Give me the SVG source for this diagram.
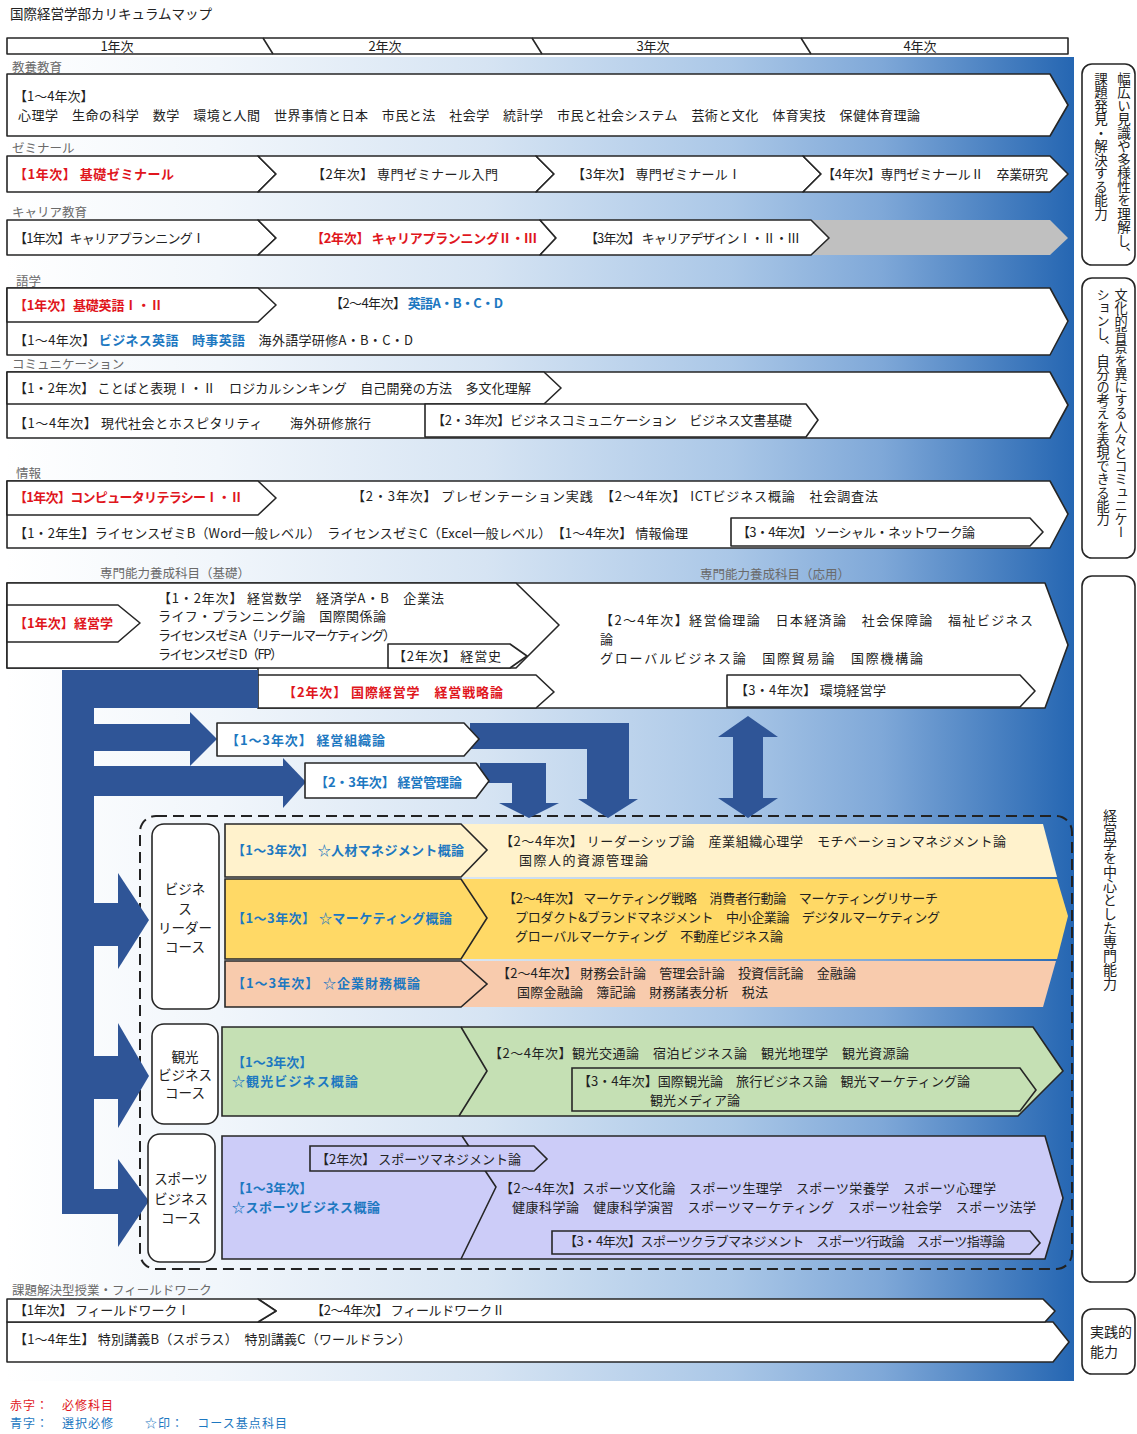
<svg xmlns="http://www.w3.org/2000/svg" width="1137" height="1434" viewBox="0 0 1137 1434">
<defs>
<linearGradient id="bg" x1="0" y1="0" x2="1" y2="0">
<stop offset="0" stop-color="#ffffff"/>
<stop offset="0.2" stop-color="#f1f6fb"/>
<stop offset="0.45" stop-color="#d6e4f3"/>
<stop offset="0.68" stop-color="#aac7e7"/>
<stop offset="0.82" stop-color="#7fa8d8"/>
<stop offset="1" stop-color="#2566b2"/>
</linearGradient>
<style>
text{font-family:'Noto Sans CJK JP','Noto Sans',sans-serif;font-size:13px;fill:#222}
.r{fill:#e0161d;font-weight:700}
.b{fill:#1d78c1;font-weight:700}
.lbl{fill:#6a6a6a;font-size:12.5px}
.bx{fill:#fff;stroke:#262626;stroke-width:1.6;stroke-linejoin:round}
.ln{fill:none;stroke:#262626;stroke-width:1.6;stroke-linejoin:round}
.ar{fill:#2f5597}
.v{writing-mode:vertical-rl}
.c{text-anchor:middle;font-size:13.5px}
.lg{font-size:12px}
</style>
</defs>

<rect x="5" y="57" width="1069" height="1324" fill="url(#bg)"/>

<text x="10" y="19" style="font-size:13.5px">国際経営学部カリキュラムマップ</text>

<g id="years">
<rect x="7" y="38" width="1061" height="16" class="bx"/>
<path d="M263 38 L273 54 M532 38 L542 54 M801 38 L811 54" class="ln"/>
<text x="117" y="51" text-anchor="middle">1年次</text>
<text x="385" y="51" text-anchor="middle">2年次</text>
<text x="653" y="51" text-anchor="middle">3年次</text>
<text x="920" y="51" text-anchor="middle">4年次</text>
</g>

<g id="labels">
<text x="12" y="72" class="lbl">教養教育</text>
<text x="12" y="153" class="lbl">ゼミナール</text>
<text x="12" y="217" class="lbl">キャリア教育</text>
<text x="16" y="286" class="lbl">語学</text>
<text x="12" y="369" class="lbl">コミュニケーション</text>
<text x="16" y="478" class="lbl">情報</text>
<text x="100" y="578" class="lbl">専門能力養成科目（基礎）</text>
<text x="700" y="579" class="lbl">専門能力養成科目（応用）</text>
<text x="12" y="1295" class="lbl">課題解決型授業・フィールドワーク</text>
</g>

<g id="row-kyoyo">
<polygon points="7,74 1050,74 1068,105 1050,136 7,136" class="bx"/>
<text x="14" y="101">【1～4年次】</text>
<text x="18" y="120" textLength="902">心理学　生命の科学　数学　環境と人間　世界事情と日本　市民と法　社会学　統計学　市民と社会システム　芸術と文化　体育実技　保健体育理論</text>
</g>

<g id="row-seminar">
<polygon points="7,156 258,156 276,174 258,192 7,192" class="bx"/>
<polygon points="258,156 536,156 554,174 536,192 258,192 276,174" class="bx"/>
<polygon points="536,156 803,156 821,174 803,192 536,192 554,174" class="bx"/>
<polygon points="803,156 1050,156 1068,174 1050,192 803,192 821,174" class="bx"/>
<text x="14" y="179" class="r" textLength="160">【1年次】 基礎ゼミナール</text>
<text x="312" y="179" textLength="186">【2年次】 専門ゼミナール入門</text>
<text x="572" y="179" textLength="169">【3年次】 専門ゼミナールⅠ</text>
<text x="822" y="179" textLength="226">【4年次】専門ゼミナールⅡ　卒業研究</text>
</g>

<g id="row-career">
<polygon points="811,220 1050,220 1068,238 1050,255 811,255 829,238" fill="#c0c0c0"/>
<polygon points="7,220 258,220 276,238 258,255 7,255" class="bx"/>
<polygon points="258,220 540,220 556,238 540,255 258,255 276,238" class="bx"/>
<polygon points="540,220 811,220 829,238 811,255 540,255 556,238" class="bx"/>
<text x="14" y="243" textLength="191">【1年次】キャリアプランニングⅠ</text>
<text x="311" y="243" class="r" textLength="226">【2年次】 キャリアプランニングⅡ・Ⅲ</text>
<text x="585" y="243" textLength="215">【3年次】 キャリアデザインⅠ・Ⅱ・Ⅲ</text>
</g>

<g id="row-gogaku">
<polygon points="7,288 1050,288 1068,321 1050,355 7,355" class="bx"/>
<polygon points="7,288 258,288 276,305 258,322 7,322" class="bx"/>
<text x="14" y="310" class="r" textLength="149">【1年次】基礎英語Ⅰ・Ⅱ</text>
<text x="330" y="308" textLength="173">【2～4年次】 <tspan class="b">英語A・B・C・D</tspan></text>
<text x="14" y="345" textLength="399">【1～4年次】 <tspan class="b">ビジネス英語　時事英語</tspan>　海外語学研修A・B・C・D</text>
</g>

<g id="row-comm">
<polygon points="7,372 1050,372 1068,405 1050,438 7,438" class="bx"/>
<polygon points="7,372 544,372 561,388 544,404 7,404" class="bx"/>
<polygon points="425,404 806,404 818,420 806,437 425,437" class="bx"/>
<text x="14" y="393" textLength="517">【1・2年次】 ことばと表現Ⅰ・Ⅱ　ロジカルシンキング　自己開発の方法　多文化理解</text>
<text x="14" y="428" textLength="357">【1～4年次】 現代社会とホスピタリティ　　海外研修旅行</text>
<text x="432" y="425" textLength="360">【2・3年次】ビジネスコミュニケーション　ビジネス文書基礎</text>
</g>

<g id="row-joho">
<polygon points="7,481 1050,481 1068,514 1050,548 7,548" class="bx"/>
<polygon points="7,481 258,481 276,498 258,515 7,515" class="bx"/>
<polygon points="731,518 1030,518 1043,532 1030,546 731,546" class="bx"/>
<text x="14" y="502" class="r" textLength="229">【1年次】コンピュータリテラシーⅠ・Ⅱ</text>
<text x="352" y="501" textLength="526">【2・3年次】 プレゼンテーション実践　【2～4年次】 ICTビジネス概論　社会調査法</text>
<text x="14" y="538" textLength="674">【1・2年生】ライセンスゼミB（Word一般レベル）　ライセンスゼミC（Excel一般レベル）　【1～4年次】 情報倫理</text>
<text x="737" y="537" textLength="238">【3・4年次】 ソーシャル・ネットワーク論</text>
</g>

<g id="row-senmon">
<polygon points="7,583 1045,583 1068,645 1045,708 258,708 258,668 7,668" class="bx"/>
<polygon points="7,583 516,583 559,625 516,668 7,668" class="bx"/>
<polygon points="7,605 118,605 140,623 118,642 7,642" class="bx"/>
<polygon points="388,644 510,644 527,656 510,668 388,668" class="bx"/>
<polygon points="258,675 536,675 554,692 536,708 258,708" class="bx"/>
<polygon points="727,675 1020,675 1035,691 1020,707 727,707" class="bx"/>
<text x="14" y="628" class="r" textLength="99">【1年次】経営学</text>
<text x="158" y="603" textLength="286">【1・2年次】 経営数学　経済学A・B　企業法</text>
<text x="158" y="621" textLength="228">ライフ・プランニング論　国際関係論</text>
<text x="158" y="640" textLength="238">ライセンスゼミA（リテールマーケティング）</text>
<text x="158" y="659" textLength="125">ライセンスゼミD（FP）</text>
<text x="393" y="661" textLength="108">【2年次】 経営史</text>
<text x="600" y="625" textLength="433">【2～4年次】経営倫理論　日本経済論　社会保障論　福祉ビジネス</text>
<text x="600" y="644">論</text>
<text x="600" y="663" textLength="323">グローバルビジネス論　国際貿易論　国際機構論</text>
<text x="735" y="695" textLength="151">【3・4年次】 環境経営学</text>
<text x="283" y="697" class="r" textLength="220">【2年次】 国際経営学　経営戦略論</text>
</g>

<rect id="course-frame" x="140" y="816" width="932" height="453" rx="16" fill="none" stroke="#222" stroke-width="2" stroke-dasharray="11 6"/>

<g id="course-business">
<polygon points="225,824 1043,824 1057,877 225,877" fill="#fff2cc"/>
<polygon points="225,879 1057,879 1068,916 1057,959 225,959" fill="#ffd966"/>
<polygon points="225,961 1056,961 1043,1007 225,1007" fill="#f8cbad"/>
<polygon points="225,824 461,824 487,850 461,877 225,877" fill="#fff2cc" stroke="#262626" stroke-width="1.6"/>
<polygon points="225,879 461,879 487,918 461,959 225,959" fill="#ffd966" stroke="#262626" stroke-width="1.6"/>
<polygon points="225,961 461,961 487,984 461,1007 225,1007" fill="#f8cbad" stroke="#262626" stroke-width="1.6"/>
<text x="232" y="855" class="b" textLength="232">【1～3年次】 ☆人材マネジメント概論</text>
<text x="232" y="923" class="b" textLength="220">【1～3年次】 ☆マーケティング概論</text>
<text x="232" y="988" class="b" textLength="188">【1～3年次】 ☆企業財務概論</text>
<text x="500" y="846" textLength="506">【2～4年次】 リーダーシップ論　産業組織心理学　モチベーションマネジメント論</text>
<text x="519" y="865" textLength="129">国際人的資源管理論</text>
<text x="503" y="903" textLength="435">【2～4年次】 マーケティング戦略　消費者行動論　マーケティングリサーチ</text>
<text x="515" y="922" textLength="425">プロダクト&amp;ブランドマネジメント　中小企業論　デジタルマーケティング</text>
<text x="515" y="941" textLength="268">グローバルマーケティング　不動産ビジネス論</text>
<text x="497" y="978" textLength="359">【2～4年次】 財務会計論　管理会計論　投資信託論　金融論</text>
<text x="517" y="997" textLength="251">国際金融論　簿記論　財務諸表分析　税法</text>
</g>

<g id="course-kanko">
<polygon points="222,1027 1033,1027 1063,1071 1018,1116 222,1116" fill="#c5e0b4" stroke="#262626" stroke-width="1.6"/>
<polyline points="461,1027 487,1071 459,1116" class="ln"/>
<polygon points="572,1068 1020,1068 1036,1090 1020,1111 572,1111" fill="#c5e0b4" stroke="#262626" stroke-width="1.6"/>
<text x="232" y="1067" class="b">【1～3年次】</text>
<text x="232" y="1086" class="b" textLength="126">☆観光ビジネス概論</text>
<text x="489" y="1058" textLength="420">【2～4年次】観光交通論　宿泊ビジネス論　観光地理学　観光資源論</text>
<text x="578" y="1086" textLength="392">【3・4年次】国際観光論　旅行ビジネス論　観光マーケティング論</text>
<text x="650" y="1105">観光メディア論</text>
</g>

<g id="course-sports">
<polygon points="222,1136 1045,1136 1063,1198 1045,1259 222,1259" fill="#ccccf8" stroke="#262626" stroke-width="1.6"/>
<polyline points="462,1136 496,1187 461,1259" class="ln"/>
<polygon points="310,1146 534,1146 547,1159 534,1171 310,1171" fill="#ccccf8" stroke="#262626" stroke-width="1.6"/>
<polygon points="552,1231 1030,1231 1040,1243 1030,1254 552,1254" fill="#ccccf8" stroke="#262626" stroke-width="1.6"/>
<text x="316" y="1164" textLength="205">【2年次】 スポーツマネジメント論</text>
<text x="232" y="1193" class="b">【1～3年次】</text>
<text x="232" y="1212" class="b" textLength="148">☆スポーツビジネス概論</text>
<text x="500" y="1193" textLength="496">【2～4年次】スポーツ文化論　スポーツ生理学　スポーツ栄養学　スポーツ心理学</text>
<text x="512" y="1212" textLength="524">健康科学論　健康科学演習　スポーツマーケティング　スポーツ社会学　スポーツ法学</text>
<text x="564" y="1246" textLength="441">【3・4年次】スポーツクラブマネジメント　スポーツ行政論　スポーツ指導論</text>
</g>

<g id="connectors">
<rect x="62" y="670" width="32" height="544" class="ar"/>
<rect x="62" y="670" width="196" height="38" class="ar"/>
<rect x="93" y="724" width="98" height="27" class="ar"/>
<polygon points="190,712 217,739 190,766" class="ar"/>
<rect x="93" y="766" width="191" height="30" class="ar"/>
<polygon points="283,758 306,782 283,808" class="ar"/>
<rect x="93" y="903" width="26" height="43" class="ar"/>
<polygon points="118,873 149,920 118,969" class="ar"/>
<rect x="93" y="1056" width="26" height="43" class="ar"/>
<polygon points="118,1023 149,1076 118,1128" class="ar"/>
<rect x="93" y="1189" width="26" height="25" class="ar"/>
<polygon points="118,1159 149,1201 118,1247" class="ar"/>
<polygon points="470,723 629,723 629,799 638,799 608,818 578,799 587,799 587,749 470,749" class="ar"/>
<polygon points="480,763 546,763 546,803 559,803 529,818 499,803 512,803 512,783 480,783" class="ar"/>
<polygon points="748,716 778,737 763,737 763,798 778,798 748,818 718,798 733,798 733,737 718,737" class="ar"/>
</g>

<g id="box-soshiki">
<polygon points="217,723 464,723 479,739 464,756 217,756" class="bx"/>
<text x="226" y="745" class="b" textLength="159">【1～3年次】 経営組織論</text>
</g>
<g id="box-kanri">
<polygon points="305,763 476,763 489,781 476,798 305,798" class="bx"/>
<text x="315" y="787" class="b" textLength="147">【2・3年次】 経営管理論</text>
</g>

<g id="label-business">
<rect x="152" y="824" width="67" height="185" rx="12" class="bx"/>
<text x="185" y="894" class="c">ビジネ</text>
<text x="185" y="914" class="c">ス</text>
<text x="185" y="933" class="c">リーダー</text>
<text x="185" y="952" class="c">コース</text>
</g>
<g id="label-kanko">
<rect x="152" y="1024" width="66" height="100" rx="12" class="bx"/>
<text x="185" y="1062" class="c">観光</text>
<text x="185" y="1080" class="c">ビジネス</text>
<text x="185" y="1098" class="c">コース</text>
</g>
<g id="label-sports">
<rect x="148" y="1134" width="67" height="128" rx="12" class="bx"/>
<text x="181" y="1184" class="c">スポーツ</text>
<text x="181" y="1204" class="c">ビジネス</text>
<text x="181" y="1223" class="c">コース</text>
</g>

<g id="row-field">
<polygon points="7,1322 1053,1322 1069,1342 1053,1362 7,1362" class="bx"/>
<polygon points="258,1299 1043,1299 1055,1311 1045,1322 258,1322 276,1311" class="bx"/>
<polygon points="7,1299 258,1299 276,1311 258,1322 7,1322" class="bx"/>
<text x="14" y="1315" textLength="176">【1年次】 フィールドワークⅠ</text>
<text x="311" y="1315" textLength="194">【2～4年次】 フィールドワークⅡ</text>
<text x="14" y="1344" textLength="397">【1～4年生】 特別講義B（スポラス）　特別講義C（ワールドラン）</text>
</g>

<g id="ability-1">
<rect x="1082" y="64" width="53" height="201" rx="10" class="bx"/>
<text x="1124" y="72" class="v" style="font-size:13.5px">幅広い見識や多様性を理解し、</text>
<text x="1101" y="72" class="v" style="font-size:13.5px">課題発見・解決する能力</text>
</g>
<g id="ability-2">
<rect x="1082" y="278" width="53" height="280" rx="10" class="bx"/>
<text x="1121" y="288" class="v" style="font-size:13.2px">文化的背景を異にする人々とコミュニケー</text>
<text x="1103" y="288" class="v" style="font-size:13.2px">ションし、自分の考えを表現できる能力</text>
</g>
<g id="ability-3">
<rect x="1082" y="576" width="53" height="706" rx="10" class="bx"/>
<text x="1110" y="809" class="v" style="font-size:14px">経営学を中心とした専門能力</text>
</g>
<g id="ability-4">
<rect x="1082" y="1309" width="53" height="65" rx="10" class="bx"/>
<text x="1090" y="1337" style="font-size:14px">実践的</text>
<text x="1090" y="1357" style="font-size:14px">能力</text>
</g>

<g id="legend">
<text x="10" y="1410" class="lg" style="fill:#e0161d" textLength="103">赤字：　必修科目</text>
<text x="10" y="1428" class="lg" style="fill:#1d78c1" textLength="103">青字：　選択必修</text>
<text x="145" y="1428" class="lg" style="fill:#1d78c1" textLength="142">☆印：　コース基点科目</text>
</g>
</svg>
